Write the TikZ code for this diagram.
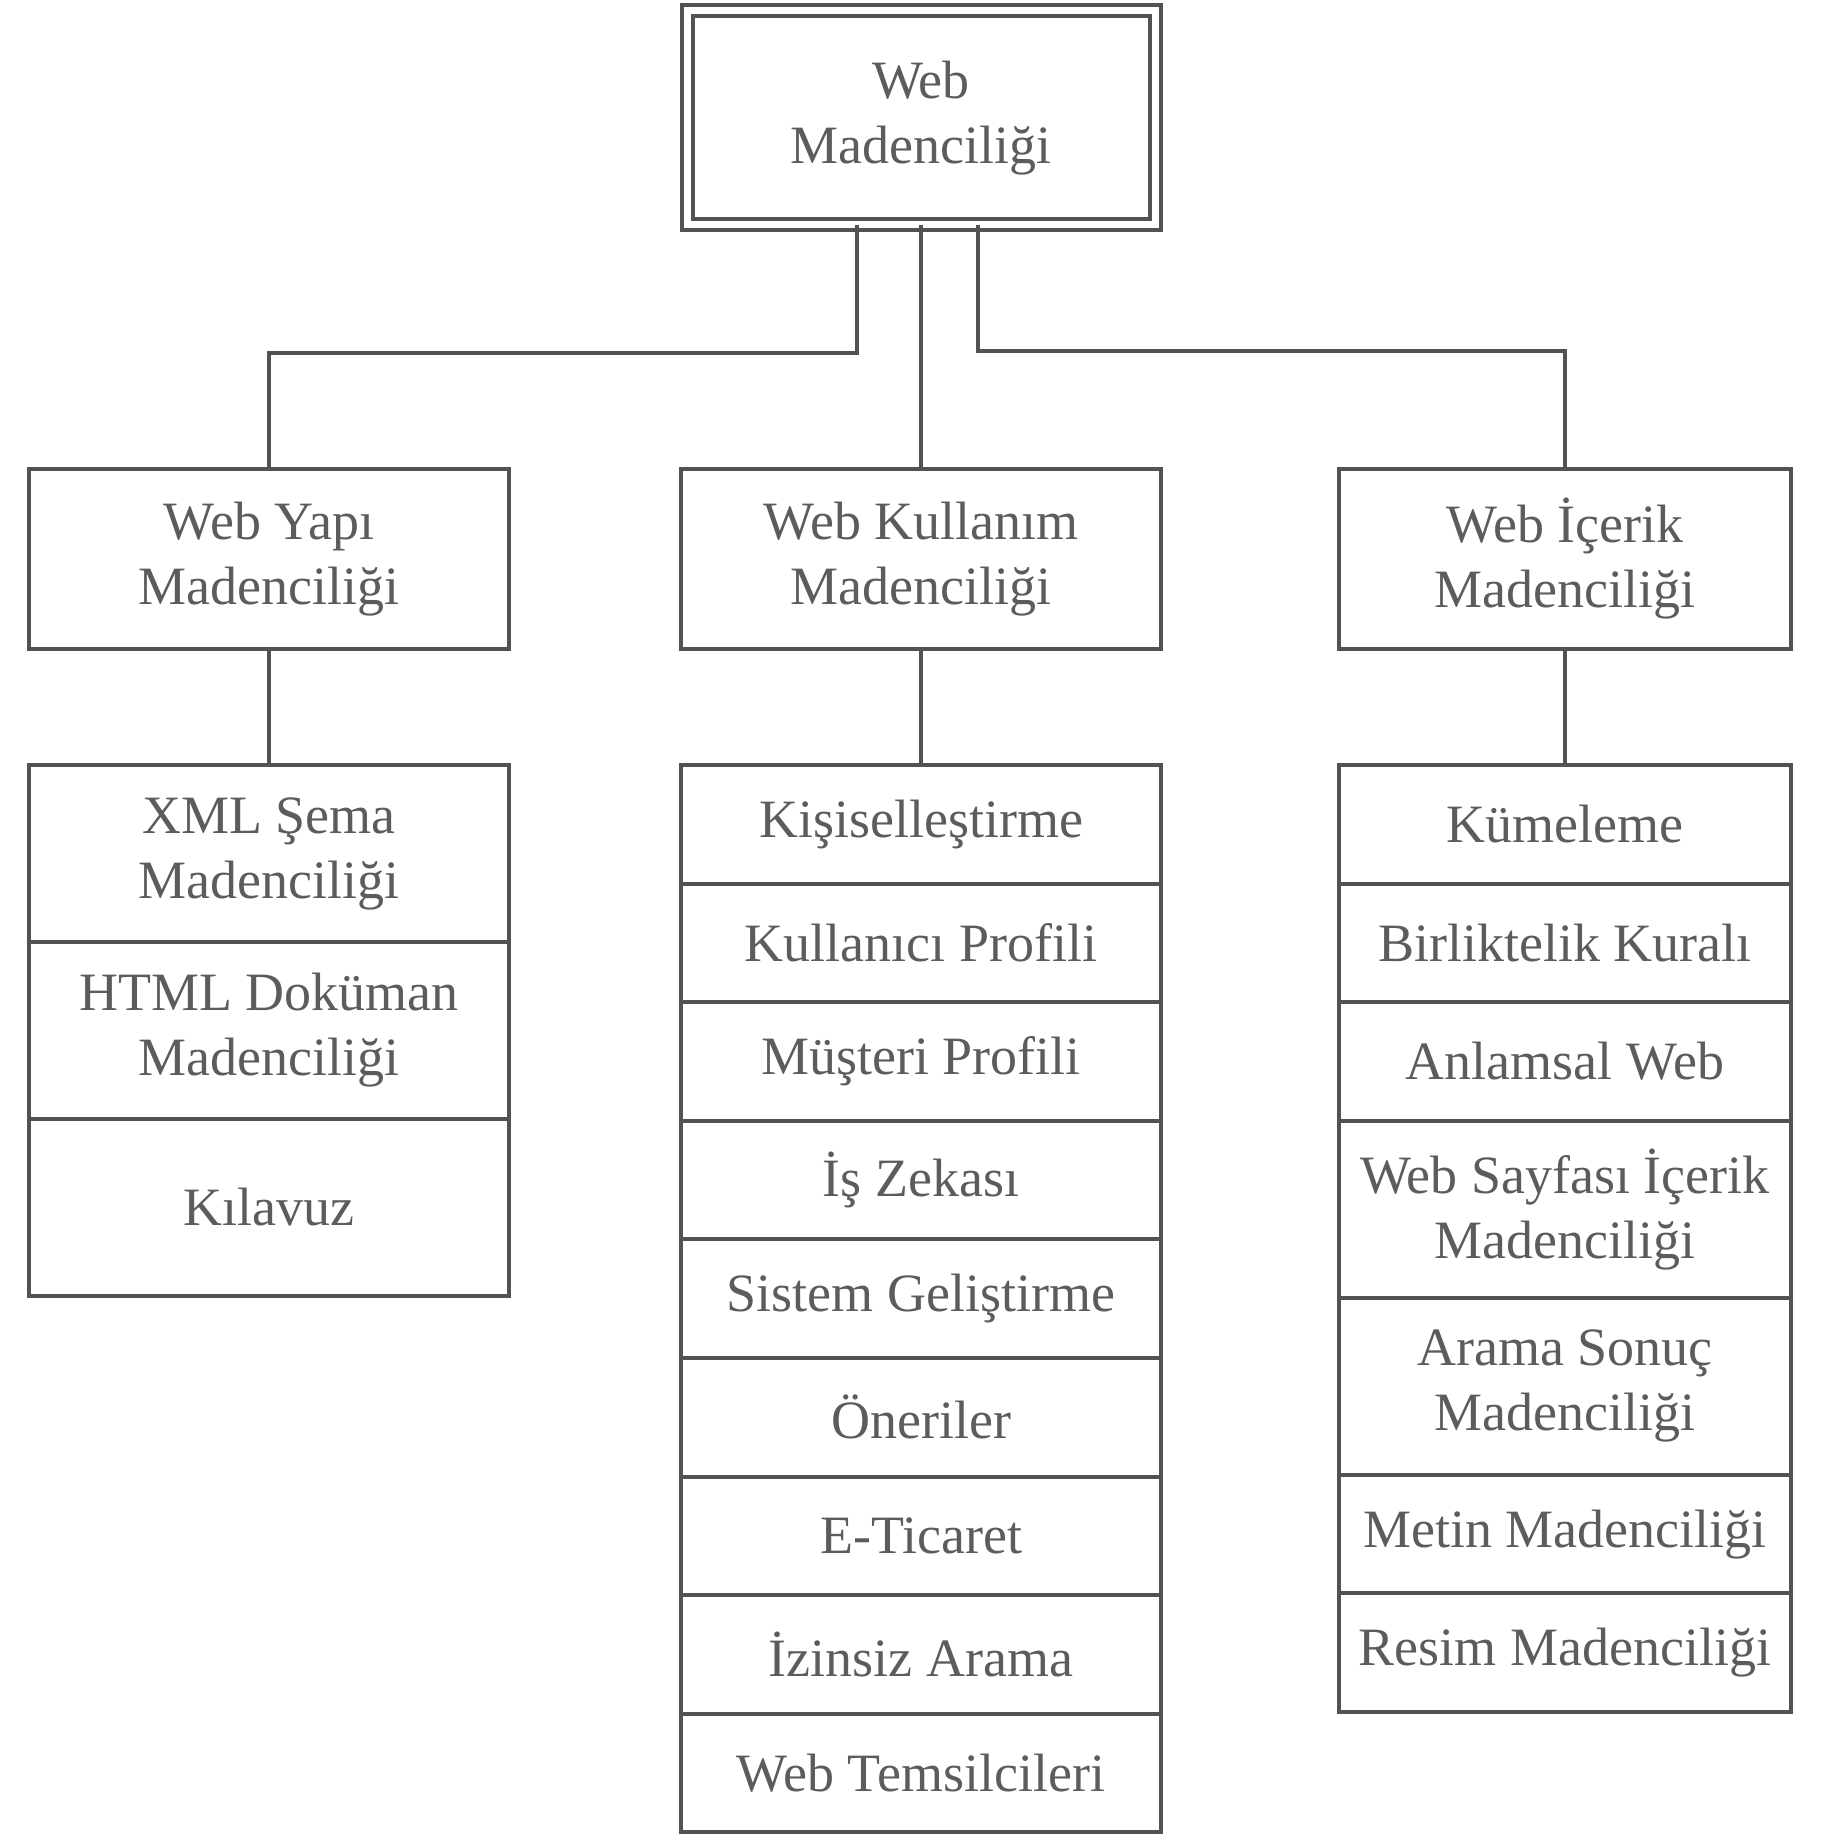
\documentclass[tikz,border=0pt]{standalone}
\usepackage{fontspec}
\setmainfont{Liberation Serif}
\usetikzlibrary{positioning}
\definecolor{inkgray}{RGB}{82,82,82}
\definecolor{textgray}{RGB}{92,92,92}
\tikzset{
    boxbase/.style = {rectangle, draw=inkgray, align=center, outer sep=0pt, text=textgray, font=\fontsize{27pt}{32.5pt}\selectfont},
    rootbox/.style = {boxbase, line width=2pt, double, double distance=3.5pt, minimum width=234pt, minimum height=107pt},
    groupbox/.style = {boxbase, line width=2pt, minimum width=240pt, minimum height=90pt},
    cell/.style = {boxbase, line width=2pt, minimum width=240pt, minimum height=59.3pt},
    cellt/.style = {cell, minimum height=88.5pt},
    cellr/.style = {cell, minimum width=226pt},
    cellrt/.style = {cellt, minimum width=226pt},
    link/.style = {draw=inkgray, line width=1.6pt}
}
\begin{document}
\begin{tikzpicture}[x=0.5pt,y=0.5pt]
\useasboundingbox (0,0) rectangle (1846,-1840);
%
\node[rootbox] at (921,-118) (web) {Web\\Madenciliği};
%
\node[groupbox] at (269,-559) (yapi) {Web Yapı\\Madenciliği};
\node[groupbox] at (921,-559) (kullanim) {Web Kullanım\\Madenciliği};
\node[groupbox, minimum width=226pt] at (1565,-559) (icerik) {Web İçerik\\Madenciliği};
%
\node[cellt, below=58pt of yapi] (xml) {XML Şema\\Madenciliği};
\node[cellt, below=0pt of xml] (html) {HTML Doküman\\Madenciliği};
\node[cellt, below=0pt of html] (kilavuz) {Kılavuz};
%
\node[cell, below=58pt of kullanim] (kisisel) {Kişiselleştirme};
\node[cell, below=0pt of kisisel] (kprofil) {Kullanıcı Profili};
\node[cell, below=0pt of kprofil] (mprofil) {Müşteri Profili};
\node[cell, below=0pt of mprofil] (zeka) {İş Zekası};
\node[cell, below=0pt of zeka] (sistem) {Sistem Geliştirme};
\node[cell, below=0pt of sistem] (oneri) {Öneriler};
\node[cell, below=0pt of oneri] (ticaret) {E-Ticaret};
\node[cell, below=0pt of ticaret] (izinsiz) {İzinsiz Arama};
\node[cell, below=0pt of izinsiz] (temsilci) {Web Temsilcileri};
%
\node[cellr, below=58pt of icerik] (kume) {Kümeleme};
\node[cellr, below=0pt of kume] (kural) {Birliktelik Kuralı};
\node[cellr, below=0pt of kural] (anlamsal) {Anlamsal Web};
\node[cellrt, below=0pt of anlamsal] (sayfa) {Web Sayfası İçerik\\Madenciliği};
\node[cellrt, below=0pt of sayfa] (arama) {Arama Sonuç\\Madenciliği};
\node[cellr, below=0pt of arama] (metin) {Metin Madenciliği};
\node[cellr, below=0pt of metin] (resim) {Resim Madenciliği};
%
\coordinate (busl) at (857,-353);
\coordinate (busr) at (978,-351);
\draw[link] (web.south -| busl) -- (busl) -| (yapi.north);
\draw[link] (web) -- (kullanim);
\draw[link] (web.south -| busr) -- (busr) -| (icerik.north);
%
\draw[link] (yapi) -- (xml);
\draw[link] (kullanim) -- (kisisel);
\draw[link] (icerik) -- (kume);

\end{tikzpicture}
\end{document}
